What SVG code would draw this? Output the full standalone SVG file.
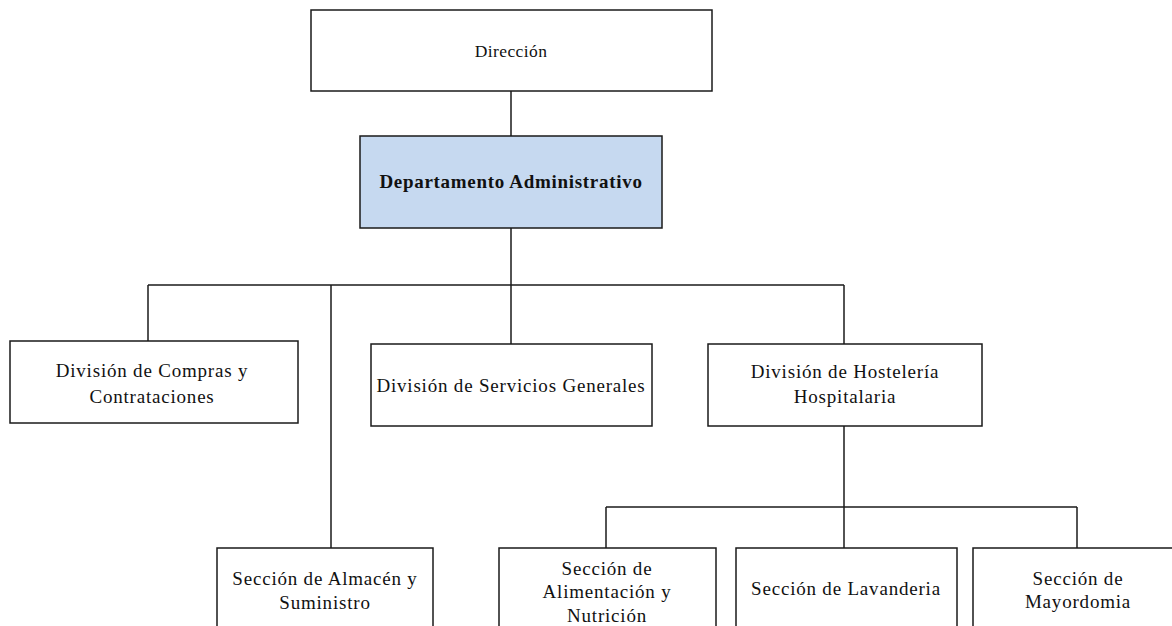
<svg xmlns="http://www.w3.org/2000/svg" width="1172" height="626" viewBox="0 0 1172 626">
<style>
.box{fill:#ffffff;stroke:#1a1a1a;stroke-width:1.5}
.hl{fill:#c6d9f0}
.t{font-family:"Liberation Serif","Times New Roman",serif;font-size:19px;fill:#111;text-anchor:middle;letter-spacing:0.8px}
.b{font-weight:bold;letter-spacing:0.7px}
.d{font-size:17.5px;letter-spacing:0.4px}
.c{fill:none;stroke:#1a1a1a;stroke-width:1.5}
</style>
<rect width="1172" height="626" fill="#ffffff"/>
<g id="connectors">
<path class="c" d="M511 91 V136"/>
<path class="c" d="M511 228 V344"/>
<path class="c" d="M148 285 H844"/>
<path class="c" d="M148 285 V341"/>
<path class="c" d="M331 285 V548"/>
<path class="c" d="M844 285 V344"/>
<path class="c" d="M844 426 V548"/>
<path class="c" d="M606 507 H1077"/>
<path class="c" d="M606 507 V548"/>
<path class="c" d="M1077 507 V548"/>
</g>
<g id="direccion">
<rect class="box" x="311" y="10" width="401" height="81"/>
<text class="t d" x="511" y="57">Dirección</text>
</g>
<g id="departamento">
<rect class="box hl" x="360" y="136" width="302" height="92"/>
<text class="t b" x="511" y="188">Departamento Administrativo</text>
</g>
<g id="compras">
<rect class="box" x="10" y="341" width="288" height="82"/>
<text class="t" x="152" y="377">División de Compras y</text>
<text class="t" x="152" y="403">Contrataciones</text>
</g>
<g id="servicios">
<rect class="box" x="371" y="344" width="281" height="82"/>
<text class="t" x="511" y="392">División de Servicios Generales</text>
</g>
<g id="hosteleria">
<rect class="box" x="708" y="344" width="274" height="82"/>
<text class="t" x="845" y="378">División de Hostelería</text>
<text class="t" x="845" y="403">Hospitalaria</text>
</g>
<g id="almacen">
<rect class="box" x="217" y="548" width="216" height="100"/>
<text class="t" x="325" y="585">Sección de Almacén y</text>
<text class="t" x="325" y="609">Suministro</text>
</g>
<g id="alimentacion">
<rect class="box" x="499" y="548" width="217" height="100"/>
<text class="t" x="607" y="575">Sección de</text>
<text class="t" x="607" y="598">Alimentación y</text>
<text class="t" x="607" y="622">Nutrición</text>
</g>
<g id="lavanderia">
<rect class="box" x="736" y="548" width="221" height="100"/>
<text class="t" x="846" y="595">Sección de Lavanderia</text>
</g>
<g id="mayordomia">
<rect class="box" x="973" y="548" width="208" height="100"/>
<text class="t" x="1078" y="585">Sección de</text>
<text class="t" x="1078" y="608">Mayordomia</text>
</g>
</svg>
